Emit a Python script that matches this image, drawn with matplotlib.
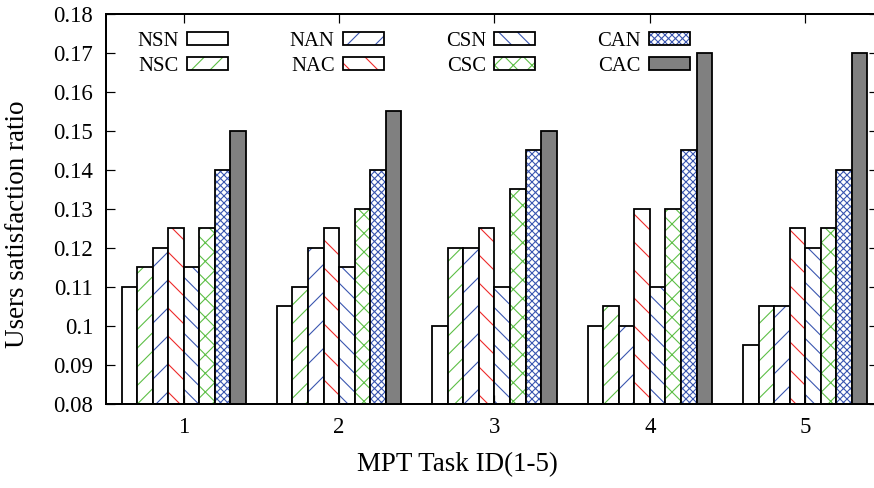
import numpy as np
import matplotlib
matplotlib.use("Agg")
import matplotlib.pyplot as plt
from matplotlib.legend_handler import HandlerTuple

# dpi chosen so that matplotlib hatch spacing matches the gnuplot patterns
DPI = 168
P = 72.0 / DPI  # pixels -> points

tasks = ["1", "2", "3", "4", "5"]
names = ["NSN", "NSC", "NAN", "NAC", "CSN", "CSC", "CAN", "CAC"]
nsn = [0.110, 0.105, 0.100, 0.100, 0.095]
nsc = [0.115, 0.110, 0.120, 0.105, 0.105]
nan_ = [0.120, 0.120, 0.120, 0.100, 0.105]
nac = [0.125, 0.125, 0.125, 0.130, 0.125]
csn = [0.115, 0.115, 0.110, 0.110, 0.120]
csc = [0.125, 0.130, 0.135, 0.130, 0.125]
can = [0.140, 0.140, 0.145, 0.145, 0.140]
cac = [0.150, 0.155, 0.150, 0.170, 0.170]
yticks = [0.08, 0.09, 0.10, 0.11, 0.12, 0.13, 0.14, 0.15, 0.16, 0.17, 0.18]
ytick_labels = ["0.08", "0.09", "0.1", "0.11", "0.12", "0.13", "0.14", "0.15", "0.16", "0.17", "0.18"]

series = [nsn, nsc, nan_, nac, csn, csc, can, cac]

GREEN = "#5cbf45"
BLUE = "#3a56b0"
RED = "#ee2a2a"
hatches = ["", "///", "//", "\\\\", "\\\\\\", "xxx", "xxxxxxxx", ""]
hcolors = ["black", GREEN, BLUE, RED, BLUE, GREEN, BLUE, "black"]
faces = ["white"] * 7 + ["#808080"]

plt.rcParams["font.family"] = ["Liberation Serif", "DejaVu Serif"]
plt.rcParams["hatch.linewidth"] = 1.1 * P

fig = plt.figure(figsize=(874.01 / DPI, 488.01 / DPI), dpi=DPI)
ax = fig.add_axes([106 / 874, 84 / 488, 772 / 874, 390 / 488])

x = np.arange(1, len(tasks) + 1)
w = 0.1
handles = []
for i, vals in enumerate(series):
    pos = x + (i - 3.5) * w
    # hatch layer (colored lines) then black outline on top
    b1 = ax.bar(pos, vals, w, color=faces[i], hatch=hatches[i],
                edgecolor=hcolors[i], linewidth=0)
    b2 = ax.bar(pos, vals, w, fill=False, edgecolor="black", linewidth=1.8 * P)
    handles.append((b1, b2))

ax.set_xlim(0.5, 5.468)
ax.set_ylim(0.08, 0.18)
ax.set_xticks(x, tasks)
ax.set_yticks(yticks, ytick_labels)
ax.tick_params(direction="in", top=True, right=True, length=9 * P, width=1.2 * P,
               labelsize=22.8 * P)
ax.tick_params(axis="y", pad=13 * P)
ax.tick_params(axis="x", pad=13 * P)
for s in ax.spines.values():
    s.set_linewidth(2 * P)

ax.set_ylabel("Users satisfaction ratio", fontsize=27 * P)
ax.yaxis.set_label_coords(-0.098, 0.462)
ax.set_xlabel("MPT Task ID(1-5)", fontsize=27 * P)
ax.xaxis.set_label_coords(0.455, -0.123)

ax.legend(handles, names, handler_map={tuple: HandlerTuple(ndivide=1)},
          ncol=4, markerfirst=False, frameon=False, loc="upper left",
          bbox_to_anchor=(0.04, 0.955), fontsize=20.6 * P, handlelength=2.0,
          handleheight=0.6, handletextpad=0.4, columnspacing=3.0,
          labelspacing=0.3, borderpad=0, borderaxespad=0)

fig.savefig("out.png", dpi=DPI)
